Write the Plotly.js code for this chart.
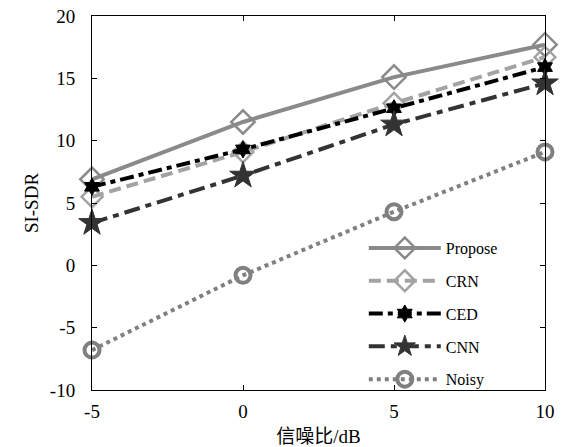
<!DOCTYPE html>
<html><head><meta charset="utf-8">
<script src="https://cdn.plot.ly/plotly-3.0.1.min.js"></script>
<style>body{margin:0;background:#fff}#chart{width:572px;height:447px}</style>
</head><body><div id="chart"></div>
<script>
const snr = [-5, 0, 5, 10];
const propose = [6.9, 11.5, 15.1, 17.7];
const crn = [5.5, 9.1, 13.0, 16.7];
const ced = [6.3, 9.3, 12.6, 15.9];
const cnn = [3.4, 7.2, 11.3, 14.6];
const noisy = [-6.8, -0.8, 4.3, 9.1];
const names = ['Propose', 'CRN', 'CED', 'CNN', 'Noisy'];
const xTicks = [-5, 0, 5, 10];
const xTickText = ['-5', '0', '5', '10'];
const yTicks = [-10, -5, 0, 5, 10, 15, 20];
const yTickText = ['-10', '-5', '0', '5', '10', '15', '20'];

const serif = 'Liberation Serif, Times New Roman, Noto Sans CJK SC, serif';
function tr(y, name, color, dash, sym, size, lw, mlw, g){
  return {x: snr, y: y, name: name, type: 'scatter', mode: 'lines+markers',
    legendgroup: g, cliponaxis: false,
    line: {color: color, width: lw, dash: dash},
    marker: {symbol: sym, size: size, color: color, line: {color: color, width: mlw}}};
}
const data = [
  tr(propose, names[0], '#8a8a8a', 'solid', 'diamond-open', 18, 4, 2.5, 'a'),
  tr(crn, names[1], '#a3a3a3', '12px,6px', 'diamond-open', 16, 4, 2.5, 'b'),
  tr(ced, names[2], '#000000', '14px,5px,5px,5px', 'hexagram', 13, 4, 1, 'c'),
  tr(cnn, names[3], '#333333', '16px,6px,6px,6px', 'star', 20, 4, 1, 'd'),
  tr(noisy, names[4], '#808080', '4px,4px', 'circle-open', 15, 4, 4, 'e')
];
const layout = {
  width: 572, height: 447,
  margin: {l: 92, r: 27, t: 16, b: 57},
  paper_bgcolor: '#fff', plot_bgcolor: '#fff',
  font: {family: serif, color: '#000', size: 19},
  showlegend: true,
  legend: {x: 0.6, y: 0.425, xanchor: 'left', yanchor: 'top', bgcolor: 'rgba(0,0,0,0)',
    font: {size: 16, family: serif}, traceorder: 'grouped', tracegroupgap: 9, itemwidth: 72},
  xaxis: {range: [-5, 10], tickvals: xTicks, ticktext: xTickText, ticks: 'inside', ticklen: 5, tickcolor: '#000',
    showline: true, linecolor: '#000', linewidth: 1, mirror: 'ticks', showgrid: false, zeroline: false,
    ticklabelstandoff: 4,
    title: {text: '信噪比/dB', font: {size: 19, family: serif}, standoff: 12}},
  yaxis: {range: [-10, 20], tickvals: yTicks, ticktext: yTickText, ticks: 'inside', ticklen: 5, tickcolor: '#000',
    showline: true, linecolor: '#000', linewidth: 1, mirror: 'ticks', showgrid: false, zeroline: false,
    ticklabelstandoff: 12,
    title: {text: 'SI-SDR', font: {size: 19, family: serif}, standoff: 6}}
};
Plotly.newPlot('chart', data, layout, {displayModeBar: false});
</script></body></html>
